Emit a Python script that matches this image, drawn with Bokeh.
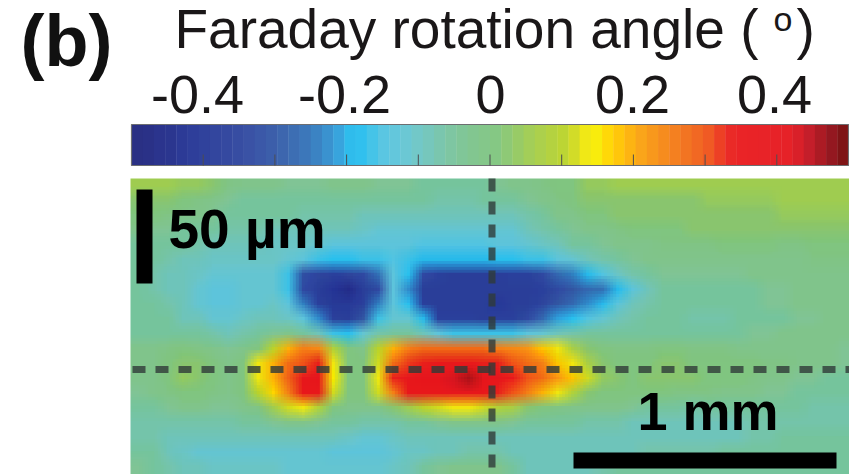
from bokeh.plotting import figure
from bokeh.embed import file_html
from bokeh.resources import INLINE
from bokeh.core.properties import value
from bokeh.models import LinearColorMapper
import numpy as np

title_text = "Faraday rotation angle ("
tick_labels = ["-0.4", "-0.2", "0", "0.2", "0.4"]
minor_ticks = [-0.4, -0.3, -0.2, -0.1, 0, 0.1, 0.2, 0.3, 0.4]

palette = [
 "#2a3084","#2a3187","#2b348d","#2b368f","#2c3a96","#2e3e9a","#30429c","#33469e","#3549a0","#374da2",
 "#3a52a5","#3b58a8","#3c5eaa","#3d66ae","#3d6eb3","#3c77ba","#3b83c3","#3a92cf","#38a4dd",
 "#2fbcec","#31c0ee","#45c4e8","#5ac6e2","#63c7dc","#6bc8d4","#72c8c8",
 "#76c7bc","#7ac6ae","#7ec6a2","#80c698","#82c690","#84c78a","#85c884",
 "#8ec976","#98cb66","#a3ce58","#acd04c","#b4d240","#bcd534","#d2dc28",
 "#f0e816","#f8ec0c","#ffd808","#ffc60b","#fdb412",
 "#faa51a","#f8981c","#f68c1e","#f48020","#f27422","#f16823","#f05a24","#ed4025",
 "#ea2a27","#ea2427","#e92327","#e82328","#e72228","#e62228","#d92029",
 "#c41e2a","#ac1b24","#941820","#7f1416",
]

faraday = [
 [5,5,5,4,4,2,-1,-3,-3,-3,-4,-4,-4,-3,-3,-3,-4,-4,-4,-5,-5,-5,-5,-5,-4,-3,-2,-1,0,1,4,4,5,5,5,5,5,5,5,5,5,5,6,6,6,6,6,5],
 [3,3,2,1,-1,-3,-4,-5,-5,-5,-5,-6,-6,-5,-5,-5,-5,-6,-6,-6,-7,-7,-7,-6,-6,-5,-4,-3,-1,0,2,3,3,3,3,3,3,3,4,4,4,4,4,5,5,5,6,6],
 [0,0,-1,-2,-3,-4,-5,-6,-6,-6,-6,-7,-7,-7,-7,-8,-8,-8,-8,-9,-9,-9,-9,-9,-9,-8,-7,-5,-3,-2,0,1,2,2,2,2,2,2,3,3,3,3,3,4,4,4,4,4],
 [-3,-4,-4,-5,-5,-6,-7,-7,-7,-8,-8,-8,-9,-9,-9,-10,-11,-11,-11,-11,-12,-12,-12,-12,-12,-11,-9,-7,-5,-4,-3,-2,-1,0,1,1,1,2,2,2,2,2,2,2,3,3,2,2],
 [-5,-5,-6,-6,-7,-8,-8,-8,-9,-10,-10,-10,-11,-13,-13,-14,-14,-14,-14,-15,-15,-15,-15,-15,-14,-13,-12,-10,-8,-6,-5,-4,-3,-2,-2,-1,-1,-1,-1,0,0,0,0,-1,-1,0,0,0],
 [-6,-6,-7,-8,-9,-10,-10,-10,-10,-10,-11,-13,-16,-18,-18,-17,-17,-15,-16,-19,-19,-19,-19,-19,-18,-18,-17,-16,-14,-12,-9,-7,-5,-4,-3,-3,-3,-3,-3,-3,-2,-2,-2,-2,-2,-1,-1,-1],
 [-6,-7,-8,-9,-10,-11,-11,-11,-11,-11,-16,-32,-35,-36,-35,-33,-26,-14,-18,-34,-37,-38,-38,-38,-38,-37,-36,-33,-28,-24,-19,-15,-10,-7,-5,-4,-4,-4,-4,-4,-4,-3,-3,-3,-3,-2,-2,-2],
 [-6,-7,-8,-9,-11,-14,-14,-12,-11,-11,-16,-33,-38,-41,-45,-39,-33,-13,-22,-38,-39,-39,-39,-38,-39,-39,-38,-37,-34,-31,-28,-26,-20,-14,-8,-6,-5,-6,-6,-6,-5,-5,-4,-4,-3,-3,-3,-3],
 [-6,-6,-7,-9,-11,-14,-14,-12,-11,-10,-14,-25,-36,-40,-40,-37,-25,-13,-18,-36,-39,-39,-38,-39,-40,-39,-38,-35,-31,-28,-23,-19,-14,-9,-7,-6,-5,-6,-6,-6,-6,-5,-4,-4,-3,-3,-3,-3],
 [-5,-6,-6,-8,-9,-11,-12,-10,-9,-9,-10,-14,-22,-36,-38,-31,-16,-11,-12,-20,-36,-36,-37,-38,-36,-36,-33,-27,-21,-18,-15,-12,-8,-7,-6,-5,-6,-7,-7,-7,-6,-5,-5,-5,-4,-4,-3,-3],
 [-5,-5,-5,-5,-6,-7,-8,-7,-5,-4,-3,-5,-9,-17,-18,-12,-7,-6,-6,-9,-14,-16,-17,-17,-17,-16,-14,-12,-9,-7,-6,-5,-5,-5,-5,-5,-5,-6,-6,-6,-5,-4,-4,-3,-3,-3,-3,-3],
 [-3,-3,-1,0,-1,-3,-4,-2,0,10,20,25,24,8,0,-2,10,20,26,28,28,28,28,28,26,24,22,18,14,7,2,0,-1,-1,-1,0,0,-1,-1,-1,-2,-2,-2,-2,-3,-3,-3,-4],
 [-3,-2,1,3,2,0,-2,1,13,20,27,31,34,14,1,0,12,28,32,33,35,35,35,34,33,31,28,25,18,13,7,2,1,0,1,2,2,1,1,1,0,0,-1,-1,-2,-2,-3,-4],
 [-3,-2,1,4,3,0,-2,1,13,20,29,38,40,15,1,0,13,33,39,40,41,43,46,42,41,35,30,27,22,18,12,4,2,1,2,3,2,2,1,1,0,-1,-2,-3,-4,-4,-5,-6],
 [-4,-3,-1,1,1,-1,-2,0,10,17,26,37,36,12,0,0,12,26,36,37,37,39,39,36,34,30,26,20,14,8,2,1,0,0,0,0,-1,-1,-1,-2,-3,-3,-4,-4,-5,-6,-6,-6],
 [-5,-5,-4,-3,-3,-4,-4,-2,-1,5,12,13,8,0,-3,-3,-2,2,6,10,12,13,13,11,9,7,3,1,-1,-2,-3,-3,-3,-4,-5,-6,-6,-7,-6,-5,-5,-5,-5,-6,-6,-7,-7,-7],
 [-7,-7,-7,-7,-7,-7,-7,-6,-5,-4,-3,-3,-4,-5,-6,-7,-7,-7,-6,-5,-4,-3,-3,-3,-3,-4,-5,-6,-6,-6,-7,-7,-7,-8,-8,-8,-8,-8,-8,-8,-8,-7,-7,-7,-7,-7,-7,-7],
 [-7,-7,-8,-9,-9,-9,-9,-9,-8,-8,-8,-8,-8,-9,-10,-11,-11,-10,-9,-9,-9,-8,-8,-8,-8,-8,-9,-9,-9,-9,-9,-9,-9,-9,-9,-9,-9,-9,-8,-8,-8,-7,-7,-6,-6,-6,-6,-6],
 [-6,-6,-8,-10,-11,-11,-12,-12,-11,-11,-11,-12,-12,-13,-14,-14,-13,-12,-10,-10,-9,-8,-7,-7,-7,-8,-8,-9,-9,-9,-9,-8,-8,-8,-7,-7,-7,-7,-7,-6,-6,-6,-6,-6,-6,-6,-6,-6],
 [-4,-5,-7,-9,-9,-10,-10,-10,-10,-10,-11,-11,-11,-11,-12,-12,-11,-10,-8,-6,-4,-2,-2,-2,-3,-6,-8,-9,-9,-9,-8,-7,-6,-5,-5,-5,-5,-6,-6,-6,-6,-5,-5,-5,-5,-5,-5,-5],
]

W, H = 849, 474
p = figure(width=W, height=H, x_range=(0, W), y_range=(0, H),
           output_backend="svg", toolbar_location=None, min_border=0,
           background_fill_color="white", border_fill_color="white", outline_line_color=None)
p.axis.visible = False
p.grid.visible = False

FONT = value("Liberation Sans")
INK = "#1a1718"
def to_px(v):
    return 489.5 + 717 * np.asarray(v, dtype=float)
def Y(y):
    return H - y

# heat map: the same grid is laid down several times with sub-cell shifts,
# which softens the blocks on screen the way the blurred original looks
arr = np.array(faraday, dtype=float) / 100
nrows, ncols = arr.shape
cell_w, cell_h = 719 / ncols, 296 / nrows
padded = np.pad(arr[::-1], 1, mode="edge")
mapper = LinearColorMapper(palette=palette, low=-0.5, high=0.5)
STEPS = 5
k = 0
for iy in range(STEPS):
    for ix in range(STEPS):
        k += 1
        dx = ((ix + 0.5) / STEPS - 0.5) * cell_w
        dy = ((iy + 0.5) / STEPS - 0.5) * cell_h
        p.image(image=[padded], x=130 - cell_w + dx, y=-cell_h + dy,
                dw=719 + 2 * cell_w, dh=296 + 2 * cell_h, color_mapper=mapper, global_alpha=1.0 / k)
# white surround keeps the softened edge inside the panel
p.quad(left=[0, 0], right=[130, W], top=[Y(150), Y(150)], bottom=[0, Y(178)], fill_color="white", line_color=None)

# colour bar
n = len(palette)
edges = np.linspace(-0.5, 0.5, n + 1)
p.quad(left=to_px(edges[:-1]), right=to_px(edges[1:]) + 0.4, top=Y(124), bottom=Y(165),
       fill_color=palette, line_color=None)
p.quad(left=[to_px(-0.5)], right=[to_px(0.5)], top=[Y(124)], bottom=[Y(165)],
       fill_color=None, line_color="#6d6e71", line_width=1.2)
p.segment(x0=to_px(minor_ticks), x1=to_px(minor_ticks), y0=Y(154), y1=Y(165),
          line_color="#4d4d4f", line_width=1)

# title and tick labels
p.text(x=[174], y=[Y(59.7)], text=[title_text], text_font=FONT, text_font_size="55px",
       text_color=INK, text_baseline="bottom", text_align="left")
p.text(x=[773], y=[Y(37.2)], text=["o"], text_font=FONT, text_font_size="34px",
       text_color=INK, text_baseline="bottom", text_align="left")
p.text(x=[796], y=[Y(59.7)], text=[")"], text_font=FONT, text_font_size="55px",
       text_color=INK, text_baseline="bottom", text_align="left")
p.text(x=[197, 344, 490, 632, 774], y=[Y(112.4)] * 5, text=tick_labels, text_font=FONT,
       text_font_size="54px", text_color=INK, text_baseline="bottom", text_align="center")
p.text(x=[20], y=[Y(80.3)], text=["(b)"], text_font=FONT, text_font_size="72px", text_font_style="bold",
       text_color="#111111", text_baseline="bottom", text_align="left")

# dashed guide lines
p.line(x=[132, 849], y=[Y(369), Y(369)], line_color="#2f3b38", line_alpha=0.8, line_width=7, line_dash="13 10")
p.line(x=[491.5, 491.5], y=[Y(178), Y(474)], line_color="#2f3b38", line_alpha=0.8, line_width=7, line_dash="13 10")

# scale bars
p.quad(left=[136, 573], right=[152, 836], top=[Y(189), Y(452)], bottom=[Y(283), Y(468)], fill_color="black", line_color=None)
p.text(x=[168], y=[Y(259.7)], text=["50 µm"], text_font=FONT, text_font_size="55px", text_font_style="bold",
       text_color="black", text_baseline="bottom", text_align="left")
p.text(x=[637], y=[Y(440.4)], text=["1 mm"], text_font=FONT, text_font_size="54px", text_font_style="bold",
       text_color="black", text_baseline="bottom", text_align="left")

open("out.html", "w").write(file_html(p, INLINE))
